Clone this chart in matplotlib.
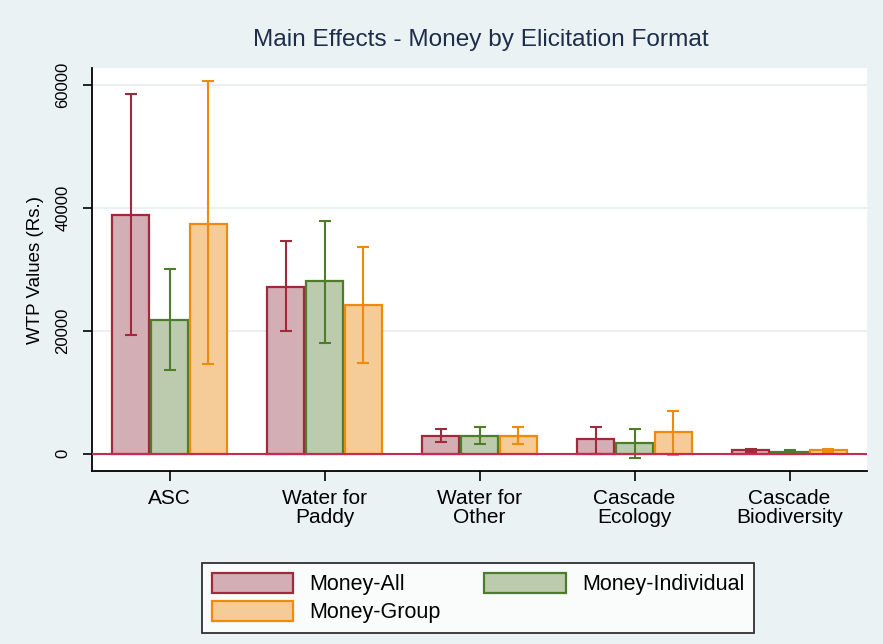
import numpy as np
import matplotlib
matplotlib.use("Agg")
import matplotlib.pyplot as plt
from matplotlib.patches import Patch

plt.rcParams['font.family'] = ['Liberation Sans', 'DejaVu Sans']

categories = ["ASC", "Water for\nPaddy", "Water for\nOther", "Cascade\nEcology", "Cascade\nBiodiversity"]
series = ["Money-All", "Money-Individual", "Money-Group"]

# mean WTP and confidence bounds
money_all = [38900, 27200, 2900, 2350, 550]
money_all_lo = [19300, 20000, 2000, -100, 300]
money_all_hi = [58500, 34700, 4100, 4400, 800]

money_ind = [21700, 28200, 2900, 1700, 280]
money_ind_lo = [13700, 18000, 1600, -750, 0]
money_ind_hi = [30000, 37900, 4400, 4050, 600]

money_grp = [37400, 24300, 2900, 3500, 550]
money_grp_lo = [14600, 14800, 1600, -200, 250]
money_grp_hi = [60700, 33700, 4400, 7000, 850]

fills = ["#D3AEB4", "#BCCBAE", "#F5CC98"]
edges = ["#A02A3C", "#4E7D2A", "#F08A0C"]

means = [money_all, money_ind, money_grp]
lows = [money_all_lo, money_ind_lo, money_grp_lo]
highs = [money_all_hi, money_ind_hi, money_grp_hi]

fig = plt.figure(figsize=(8.83, 6.44), dpi=100)
fig.patch.set_facecolor("#EAF2F4")
ax = fig.add_axes([92 / 883, 1 - 471 / 644, 775 / 883, 403 / 644])
ax.set_facecolor("white")

x = np.arange(len(categories))
w = 0.25
for i in range(3):
    pos = x + (i - 1) * w
    m = np.array(means[i])
    lo = np.array(lows[i])
    hi = np.array(highs[i])
    ax.bar(pos, m, width=w * 0.96, color=fills[i], edgecolor=edges[i], linewidth=1.6, zorder=2)
    ax.errorbar(pos, m, yerr=[m - lo, hi - m], fmt="none", ecolor=edges[i],
                elinewidth=1.5, capsize=4, capthick=1.5, zorder=3)

ax.axhline(0, color="#CC2850", lw=1.5, zorder=4)
for g in [20000, 40000, 60000]:
    ax.axhline(g, color="#E6EEF0", lw=1.2, zorder=1)

ax.set_xlim(-0.5, 4.5)
ax.set_ylim(-2800, 62800)
ax.set_yticks([0, 20000, 40000, 60000])
ax.set_yticklabels(["0", "20000", "40000", "60000"], rotation=90, va="center", fontsize=12)
ax.set_xticks(x)
ax.set_xticklabels(categories, fontsize=15, linespacing=1.0)
ax.tick_params(axis="x", length=7, width=1.2, pad=6)
ax.tick_params(axis="y", length=6.5, width=1.2, pad=9)
ax.set_ylabel("WTP Values (Rs.)", fontsize=13.5, labelpad=8)

for s in ["top", "right"]:
    ax.spines[s].set_visible(False)
for s in ["left", "bottom"]:
    ax.spines[s].set_linewidth(1.3)
    ax.spines[s].set_color("black")

fig.text(481 / 883, 1 - 40 / 644, "Main Effects - Money by Elicitation Format",
         ha="center", va="center", fontsize=17.6, color="#1E2D4A")

handles = [Patch(facecolor=fills[i], edgecolor=edges[i], linewidth=1.6, label=series[i]) for i in range(3)]
order = [0, 2, 1]
leg = fig.legend([handles[k] for k in order], [series[k] for k in order], ncol=2,
                 loc="center", bbox_to_anchor=(478 / 883, 1 - 598 / 644),
                 fontsize=15.5, handlelength=3.8, handleheight=1.1, handletextpad=0.75,
                 columnspacing=2.0, labelspacing=0.25, frameon=True, fancybox=False,
                 borderpad=0.45, borderaxespad=0)
leg.get_frame().set_edgecolor("black")
leg.get_frame().set_linewidth(1.3)
leg.get_frame().set_facecolor("white")

fig.savefig("out.png", dpi=100, facecolor=fig.get_facecolor())
